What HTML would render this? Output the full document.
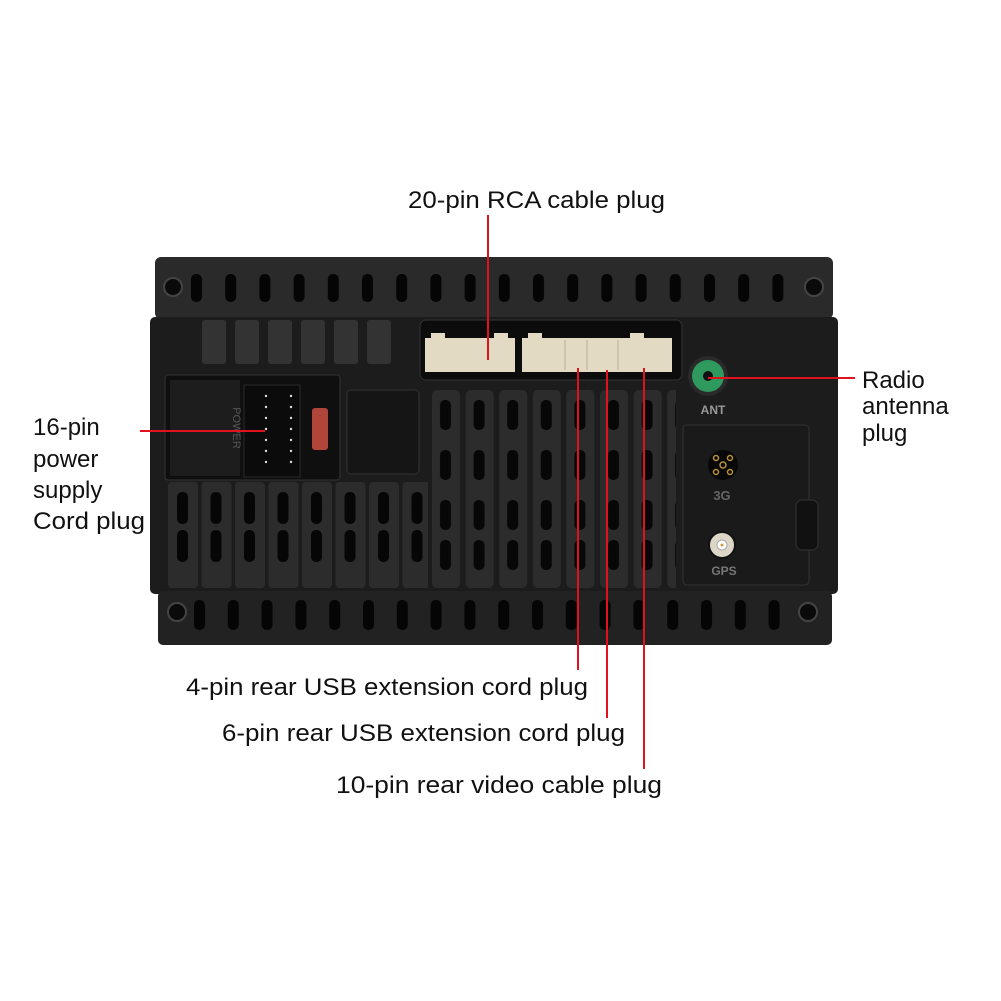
<!DOCTYPE html>
<html><head><meta charset="utf-8"><style>
html,body{margin:0;padding:0;background:#fff;}
svg{display:block;}
text{font-family:"Liberation Sans",sans-serif;fill:#111;}
</style></head><body>
<svg width="1001" height="1001" viewBox="0 0 1001 1001" xmlns="http://www.w3.org/2000/svg">
<defs>
<pattern id="slotT" x="191" y="0" width="34.2" height="1001" patternUnits="userSpaceOnUse">
<rect x="0" y="274" width="11" height="28" rx="5" fill="#050505"/>
</pattern>
<pattern id="slotB" x="194" y="0" width="33.8" height="1001" patternUnits="userSpaceOnUse">
<rect x="0" y="600" width="11" height="30" rx="5" fill="#050505"/>
</pattern>
<pattern id="ribL" x="168" y="0" width="33.5" height="1001" patternUnits="userSpaceOnUse">
<rect x="0" y="482" width="30" height="106" rx="4" fill="#2c2c2c"/>
<rect x="9" y="492" width="11" height="32" rx="5" fill="#060606"/>
<rect x="9" y="530" width="11" height="32" rx="5" fill="#060606"/>
</pattern>
<pattern id="ribM" x="432" y="0" width="33.6" height="1001" patternUnits="userSpaceOnUse">
<rect x="0" y="390" width="28" height="198" rx="5" fill="#2c2c2c"/>
<rect x="8" y="400" width="11" height="30" rx="5" fill="#070707"/>
<rect x="8" y="450" width="11" height="30" rx="5" fill="#070707"/>
<rect x="8" y="500" width="11" height="30" rx="5" fill="#070707"/>
<rect x="8" y="540" width="11" height="30" rx="5" fill="#070707"/>
</pattern>
</defs>

<rect x="155" y="257" width="678" height="62" rx="6" fill="#2a2a2a"/>
<rect x="180" y="257" width="620" height="62" fill="url(#slotT)"/>
<rect x="150" y="317" width="688" height="277" rx="5" fill="#1c1c1c"/>
<rect x="158" y="591" width="674" height="54" rx="5" fill="#222"/>
<rect x="188" y="591" width="600" height="54" fill="url(#slotB)"/>
<circle cx="173" cy="287" r="9" fill="#0a0a0a" stroke="#444" stroke-width="2"/>
<circle cx="814" cy="287" r="9" fill="#0a0a0a" stroke="#444" stroke-width="2"/>
<circle cx="177" cy="612" r="9" fill="#0a0a0a" stroke="#444" stroke-width="2"/>
<circle cx="808" cy="612" r="9" fill="#0a0a0a" stroke="#444" stroke-width="2"/>

<g fill="#333">
<rect x="202" y="320" width="24" height="44" rx="3"/>
<rect x="235" y="320" width="24" height="44" rx="3"/>
<rect x="268" y="320" width="24" height="44" rx="3"/>
<rect x="301" y="320" width="24" height="44" rx="3"/>
<rect x="334" y="320" width="24" height="44" rx="3"/>
<rect x="367" y="320" width="24" height="44" rx="3"/>
</g>
<rect x="168" y="482" width="260" height="108" fill="url(#ribL)"/>
<rect x="432" y="385" width="244" height="205" fill="url(#ribM)"/>

<rect x="165" y="375" width="175" height="105" rx="3" fill="#0f0f0f" stroke="#333"/>
<rect x="170" y="380" width="70" height="96" fill="#1d1d1d"/>
<text x="0" y="0" transform="translate(233,428) rotate(90)" font-size="11" style="fill:#555" text-anchor="middle">POWER</text>
<rect x="244" y="385" width="56" height="92" fill="#0b0b0b" stroke="#2a2a2a"/>
<g fill="#ddd">
<circle cx="266" cy="396" r="1.2"/><circle cx="291" cy="396" r="1.2"/>
<circle cx="266" cy="407" r="1.2"/><circle cx="291" cy="407" r="1.2"/>
<circle cx="266" cy="418" r="1.2"/><circle cx="291" cy="418" r="1.2"/>
<circle cx="266" cy="429" r="1.2"/><circle cx="291" cy="429" r="1.2"/>
<circle cx="266" cy="440" r="1.2"/><circle cx="291" cy="440" r="1.2"/>
<circle cx="266" cy="451" r="1.2"/><circle cx="291" cy="451" r="1.2"/>
<circle cx="266" cy="462" r="1.2"/><circle cx="291" cy="462" r="1.2"/>
</g>
<rect x="312" y="408" width="16" height="42" rx="3" fill="#b0453a"/>
<rect x="347" y="390" width="72" height="84" rx="4" fill="#151515" stroke="#333"/>

<rect x="420" y="320" width="262" height="60" rx="6" fill="#0c0c0c" stroke="#333"/>
<rect x="425" y="338" width="90" height="34" fill="#e3dac4"/>
<rect x="431" y="333" width="14" height="8" fill="#e3dac4"/>
<rect x="494" y="333" width="14" height="8" fill="#e3dac4"/>
<rect x="522" y="338" width="150" height="34" fill="#e3dac4"/>
<rect x="528" y="333" width="14" height="8" fill="#e3dac4"/>
<rect x="630" y="333" width="14" height="8" fill="#e3dac4"/>
<g stroke="#b8ae98" stroke-width="1"><line x1="565" y1="340" x2="565" y2="370"/><line x1="587" y1="340" x2="587" y2="370"/><line x1="618" y1="340" x2="618" y2="370"/></g>

<circle cx="708" cy="376" r="20" fill="#2a2a2a"/>
<circle cx="708" cy="376" r="16" fill="#2f9a5e"/>
<circle cx="708" cy="376" r="5" fill="#111"/>
<text x="713" y="414" font-size="12" font-weight="bold" style="fill:#999" text-anchor="middle">ANT</text>

<rect x="683" y="425" width="126" height="160" rx="4" fill="#1a1a1a" stroke="#333"/>
<rect x="796" y="500" width="22" height="50" rx="6" fill="#111" stroke="#333"/>
<circle cx="723" cy="465" r="15" fill="#080808"/>
<g fill="none" stroke="#b8913a" stroke-width="1.5"><circle cx="723" cy="465" r="3"/><circle cx="716" cy="458" r="2.5"/><circle cx="730" cy="458" r="2.5"/><circle cx="716" cy="472" r="2.5"/><circle cx="730" cy="472" r="2.5"/></g>
<text x="722" y="500" font-size="13" font-weight="bold" style="fill:#666" text-anchor="middle">3G</text>
<circle cx="722" cy="545" r="13" fill="#ddd6c8" stroke="#111" stroke-width="2"/>
<circle cx="722" cy="545" r="5" fill="#fff" stroke="#aaa"/>
<circle cx="722" cy="545" r="1.5" fill="#c9a040"/>
<text x="724" y="575" font-size="12" font-weight="bold" style="fill:#777" text-anchor="middle">GPS</text>

<g stroke="#e0121d" stroke-width="2" fill="none">
<line x1="488" y1="215" x2="488" y2="360"/>
<line x1="140" y1="431" x2="265" y2="431"/>
<line x1="708" y1="378" x2="855" y2="378"/>
<line x1="578" y1="368" x2="578" y2="670"/>
<line x1="607" y1="370" x2="607" y2="718"/>
<line x1="644" y1="368" x2="644" y2="769"/>
</g>

<text x="408" y="208" font-size="24" textLength="257" lengthAdjust="spacingAndGlyphs">20-pin RCA cable plug</text>
<text x="33" y="435" font-size="24">16-pin</text>
<text x="33" y="467" font-size="24">power</text>
<text x="33" y="498" font-size="24">supply</text>
<text x="33" y="529" font-size="24" textLength="112" lengthAdjust="spacingAndGlyphs">Cord plug</text>
<text x="862" y="388" font-size="24">Radio</text>
<text x="862" y="414" font-size="24">antenna</text>
<text x="862" y="441" font-size="24">plug</text>
<text x="186" y="695" font-size="24" textLength="402" lengthAdjust="spacingAndGlyphs">4-pin rear USB extension cord plug</text>
<text x="222" y="741" font-size="24" textLength="403" lengthAdjust="spacingAndGlyphs">6-pin rear USB extension cord plug</text>
<text x="336" y="793" font-size="24" textLength="326" lengthAdjust="spacingAndGlyphs">10-pin rear video cable plug</text>
</svg>
</body></html>
